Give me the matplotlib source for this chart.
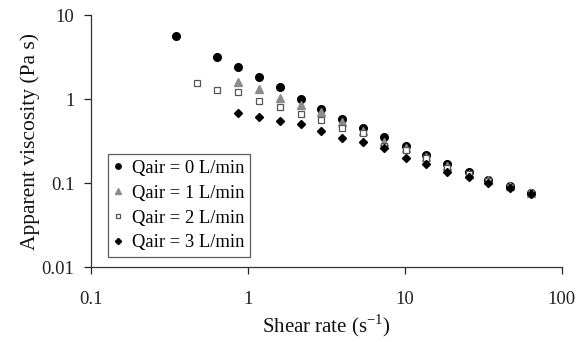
import matplotlib
matplotlib.use("Agg")
import matplotlib.pyplot as plt
from matplotlib.ticker import FixedLocator, FixedFormatter, NullLocator

plt.rcParams['font.family'] = ['Liberation Serif', 'DejaVu Serif']
plt.rcParams['mathtext.fontset'] = 'custom'
plt.rcParams['mathtext.rm'] = 'Liberation Serif'

# Data
x_q0 = [0.348, 0.637, 0.867, 1.18, 1.61, 2.19, 2.94, 4.0, 5.44, 7.41, 10.1, 13.7, 18.7, 25.5, 34.1, 46.5, 63.3]
y_q0 = [5.62, 3.16, 2.40, 1.83, 1.39, 1.0, 0.76, 0.58, 0.45, 0.35, 0.28, 0.215, 0.168, 0.135, 0.11, 0.092, 0.077]

x_q1 = [0.867, 1.18, 1.61, 2.19, 2.94, 4.0, 5.44, 7.41, 10.1, 13.7, 18.7, 25.5, 34.1, 46.5, 63.3]
y_q1 = [1.59, 1.31, 1.03, 0.85, 0.70, 0.53, 0.42, 0.31, 0.26, 0.205, 0.16, 0.13, 0.108, 0.092, 0.076]

x_q2 = [0.474, 0.637, 0.867, 1.18, 1.61, 2.19, 2.94, 4.0, 5.44, 7.41, 10.1, 13.7, 18.7, 25.5, 34.1, 46.5, 63.3]
y_q2 = [1.55, 1.28, 1.21, 0.95, 0.80, 0.67, 0.56, 0.45, 0.39, 0.28, 0.245, 0.20, 0.15, 0.128, 0.105, 0.09, 0.076]

x_q3 = [0.867, 1.18, 1.61, 2.19, 2.94, 4.0, 5.44, 7.41, 10.1, 13.7, 18.7, 25.5, 34.1, 46.5, 63.3]
y_q3 = [0.68, 0.61, 0.55, 0.50, 0.42, 0.34, 0.31, 0.26, 0.20, 0.168, 0.135, 0.118, 0.10, 0.087, 0.075]

labels = ['Qair = 0 L/min', 'Qair = 1 L/min', 'Qair = 2 L/min', 'Qair = 3 L/min']

x_ticks = [0.1, 1, 10, 100]
x_tick_labels = ['0.1', '1', '10', '100']
y_ticks = [0.01, 0.1, 1, 10]
y_tick_labels = ['0.01', '0.1', '1', '10']

fig = plt.figure(figsize=(5.87, 3.42), dpi=100)
ax = fig.add_axes([0.155, 0.219, 0.802, 0.737])

ax.plot(x_q0, y_q0, linestyle='none', marker='o', markersize=5.5, color='black', label=labels[0])
ax.plot(x_q1, y_q1, linestyle='none', marker='^', markersize=5.5, color='#8c8c8c', label=labels[1])
ax.plot(x_q2, y_q2, linestyle='none', marker='s', markersize=5, markerfacecolor='white',
        markeredgecolor='#555555', markeredgewidth=0.9, label=labels[2])
ax.plot(x_q3, y_q3, linestyle='none', marker='D', markersize=4.5, color='black', label=labels[3])

ax.set_xscale('log')
ax.set_yscale('log')
ax.set_xlim(0.1, 100)
ax.set_ylim(0.01, 10)

ax.xaxis.set_major_locator(FixedLocator(x_ticks))
ax.xaxis.set_major_formatter(FixedFormatter(x_tick_labels))
ax.yaxis.set_major_locator(FixedLocator(y_ticks))
ax.yaxis.set_major_formatter(FixedFormatter(y_tick_labels))
ax.xaxis.set_minor_locator(NullLocator())
ax.yaxis.set_minor_locator(NullLocator())

for s in ['top', 'right']:
    ax.spines[s].set_visible(False)
for s in ['left', 'bottom']:
    ax.spines[s].set_color('#333333')
    ax.spines[s].set_linewidth(0.9)

ax.tick_params(axis='both', which='major', direction='out', length=5, width=0.9,
               labelsize=13.5, colors='#222222')
ax.tick_params(axis='x', pad=12)
ax.tick_params(axis='y', pad=7)

ax.set_xlabel(r'Shear rate (s$^{\mathregular{-1}}$)', fontsize=15, color='#111111', labelpad=3)
ax.set_ylabel('Apparent viscosity (Pa s)', fontsize=15.5, color='#111111', labelpad=1)

leg = ax.legend(loc='lower left', bbox_to_anchor=(0.036, 0.040), borderaxespad=0,
                fontsize=13.4, frameon=True, fancybox=False, handlelength=0.5,
                handletextpad=0.5, borderpad=0.3, labelspacing=0.42, markerscale=0.7)
leg.get_frame().set_edgecolor('#333333')
leg.get_frame().set_linewidth(0.9)

fig.savefig('out.png', dpi=100)
